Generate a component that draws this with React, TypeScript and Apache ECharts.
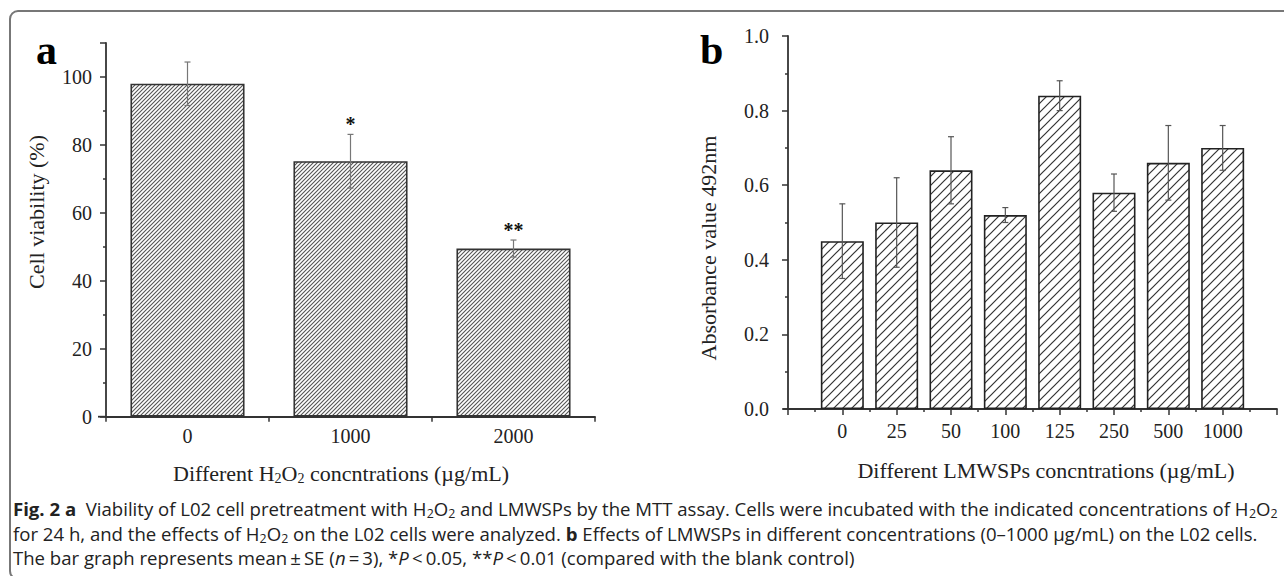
import React, { useEffect, useRef } from 'react';
import * as echarts from 'echarts';

// Panel a: H2O2 concentrations
const aCategories = ['0', '1000', '2000'];
const aMeans = [98, 75.2, 49.5];
const aErrors = [6.4, 7.9, 2.5];
const aMarks = ['', '*', '**'];
const aYTicks = { min: 0, max: 110, interval: 20 };

// Panel b: LMWSPs concentrations
const bCategories = ['0', '25', '50', '100', '125', '250', '500', '1000'];
const bMeans = [0.45, 0.5, 0.64, 0.52, 0.84, 0.58, 0.66, 0.7];
const bErrors = [0.1, 0.12, 0.09, 0.02, 0.04, 0.05, 0.1, 0.06];
const bYTicks = { min: 0, max: 1.0, interval: 0.2 };

// Caption lines
const captionLines = [
  '{b|Fig. 2 a}  Viability of L02 cell pretreatment with H{s|2}O{s|2} and LMWSPs by the MTT assay. Cells were incubated with the indicated concentrations of H{s|2}O{s|2}',
  'for 24 h, and the effects of H{s|2}O{s|2} on the L02 cells were analyzed. {b|b} Effects of LMWSPs in different concentrations (0–1000 µg/mL) on the L02 cells.',
  'The bar graph represents mean\u2009±\u2009SE ({i|n}\u2009=\u20093), *{i|P}\u2009<\u20090.05, **{i|P}\u2009<\u20090.01 (compared with the blank control)',
];

const SERIF = "'Liberation Serif', 'Times New Roman', serif";
const SANS = "'Open Sans', 'Noto Sans', sans-serif";

function hatch(size: number, color: string, lw: number) {
  const c = document.createElement('canvas');
  c.width = size;
  c.height = size;
  const ctx = c.getContext('2d') as CanvasRenderingContext2D;
  ctx.fillStyle = '#ffffff';
  ctx.fillRect(0, 0, size, size);
  ctx.strokeStyle = color;
  ctx.lineWidth = lw;
  ctx.beginPath();
  ctx.moveTo(-1, size + 1);
  ctx.lineTo(size + 1, -1);
  ctx.moveTo(-1, 1);
  ctx.lineTo(1, -1);
  ctx.moveTo(size - 1, size + 1);
  ctx.lineTo(size + 1, size - 1);
  ctx.stroke();
  return { image: c, repeat: 'repeat', imageWidth: size, imageHeight: size } as any;
}

function measureRich(text: string, base: any, rich: Record<string, any>): number {
  const ctx = document.createElement('canvas').getContext('2d') as CanvasRenderingContext2D;
  const fontOf = (st: any) =>
    `${st.fontStyle || 'normal'} ${st.fontWeight || 'normal'} ${st.fontSize}px ${st.fontFamily}`;
  let w = 0;
  const seg = (t: string, st: any) => {
    ctx.font = fontOf(st);
    w += ctx.measureText(t).width;
  };
  const re = /\{(\w+)\|([^}]*)\}/g;
  let last = 0;
  let m: RegExpExecArray | null;
  while ((m = re.exec(text))) {
    if (m.index > last) seg(text.slice(last, m.index), base);
    seg(m[2], rich[m[1]] || base);
    last = re.lastIndex;
  }
  if (last < text.length) seg(text.slice(last), base);
  return w;
}

function errorRenderer(color: string, capHalf: number, marks?: string[]) {
  return (params: any, api: any) => {
    const x = api.value(0);
    const m = api.value(1);
    const e = api.value(2);
    const top = api.coord([x, m + e]);
    const bot = api.coord([x, m - e]);
    const st = { stroke: color, lineWidth: 1.2 };
    const children: any[] = [
      { type: 'line', shape: { x1: top[0], y1: top[1], x2: bot[0], y2: bot[1] }, style: st },
      { type: 'line', shape: { x1: top[0] - capHalf, y1: top[1], x2: top[0] + capHalf, y2: top[1] }, style: st },
      { type: 'line', shape: { x1: bot[0] - capHalf, y1: bot[1], x2: bot[0] + capHalf, y2: bot[1] }, style: st },
    ];
    if (marks && marks[params.dataIndex]) {
      children.push({
        type: 'text',
        x: top[0],
        y: top[1] - 10,
        style: {
          text: marks[params.dataIndex],
          fontFamily: SERIF,
          fontWeight: 'bold',
          fontSize: 20,
          fill: '#111',
          align: 'center',
          verticalAlign: 'middle',
        },
      });
    }
    return { type: 'group', children };
  };
}

const axisText = { fontFamily: SERIF, fontSize: 20, color: '#222' };
const axisLine = { show: true, lineStyle: { color: '#333', width: 1.8 } };

export default function App() {
  const ref = useRef<HTMLDivElement>(null);
  useEffect(() => {
    document.body.style.margin = '0';
    if (!ref.current) return;
    const chart = echarts.init(ref.current, null, { renderer: 'svg' });
    const subRich = { fontFamily: SERIF, fontSize: 14, fill: '#222', padding: [11, 0, 0, 0] };
    const capBase = { fontFamily: SANS, fontSize: 18, fill: '#222' };
    const capRich: Record<string, any> = {
      b: { fontFamily: SANS, fontSize: 18, fontWeight: 'bold', fill: '#222' },
      s: { fontFamily: SANS, fontSize: 12, fill: '#222', padding: [10, 0, 0, 0] },
      i: { fontFamily: SANS, fontSize: 18, fontStyle: 'italic', fill: '#222' },
    };
    const capLeft = 13;
    const capRight = 1277;
    const w0 = measureRich(captionLines[0], capBase, capRich);
    const capScale = w0 > 0 ? (capRight - capLeft) / w0 : 1;
    const capY = [509, 534, 558];

    const option: any = {
      animation: false,
      backgroundColor: '#ffffff',
      grid: [
        { left: 106, top: 43, right: 689, bottom: 159.3, containLabel: false, outerBoundsMode: 'none' },
        { left: 788, top: 36, right: 7, bottom: 167, containLabel: false, outerBoundsMode: 'none' },
      ],
      xAxis: [
        {
          type: 'category',
          gridIndex: 0,
          data: aCategories,
          boundaryGap: true,
          axisLine,
          axisTick: { show: true, inside: false, length: 5, lineStyle: { color: '#333', width: 1.5 } },
          axisLabel: { ...axisText, margin: 9 },
          splitLine: { show: false },
        },
        {
          type: 'value',
          gridIndex: 1,
          min: 0,
          max: 9,
          interval: 1,
          axisLine: { ...axisLine, onZero: false },
          axisTick: { show: true, inside: false, length: 6, lineStyle: { color: '#333', width: 1.5 } },
          minorTick: { show: true, splitNumber: 2, length: 3, lineStyle: { color: '#333', width: 1.5 } },
          axisLabel: {
            ...axisText,
            margin: 12,
            formatter: (v: number) => bCategories[Math.round(v) - 1] ?? '',
          },
          splitLine: { show: false },
          minorSplitLine: { show: false },
        },
      ],
      yAxis: [
        {
          type: 'value',
          gridIndex: 0,
          min: aYTicks.min,
          max: aYTicks.max,
          interval: aYTicks.interval,
          axisLine,
          axisTick: { show: true, inside: false, length: 6, lineStyle: { color: '#333', width: 1.5 } },
          minorTick: { show: true, splitNumber: 2, length: 3, lineStyle: { color: '#333', width: 1.5 } },
          axisLabel: { ...axisText, margin: 14, showMaxLabel: false },
          splitLine: { show: false },
          minorSplitLine: { show: false },
        },
        {
          type: 'value',
          gridIndex: 1,
          min: bYTicks.min,
          max: bYTicks.max,
          interval: bYTicks.interval,
          axisLine,
          axisTick: { show: true, inside: false, length: 6, lineStyle: { color: '#333', width: 1.5 } },
          minorTick: { show: true, splitNumber: 2, length: 3, lineStyle: { color: '#333', width: 1.5 } },
          axisLabel: { ...axisText, margin: 19, formatter: (v: number) => v.toFixed(1) },
          splitLine: { show: false },
          minorSplitLine: { show: false },
        },
      ],
      series: [
        {
          type: 'bar',
          xAxisIndex: 0,
          yAxisIndex: 0,
          data: aMeans,
          barWidth: '70%',
          itemStyle: { color: hatch(4, '#555', 1.1), borderColor: '#333', borderWidth: 1.6 },
          z: 2,
        },
        {
          type: 'custom',
          xAxisIndex: 0,
          yAxisIndex: 0,
          data: aMeans.map((m, i) => [i, m, aErrors[i]]),
          renderItem: errorRenderer('#777', 3, aMarks),
          z: 5,
        },
        {
          type: 'bar',
          xAxisIndex: 1,
          yAxisIndex: 1,
          data: bMeans.map((m, i) => [i + 1, m]),
          barWidth: 43,
          itemStyle: { color: hatch(9, '#333', 1.2), borderColor: '#222', borderWidth: 1.6 },
          z: 2,
        },
        {
          type: 'custom',
          xAxisIndex: 1,
          yAxisIndex: 1,
          data: bMeans.map((m, i) => [i + 1, m, bErrors[i]]),
          renderItem: errorRenderer('#555', 3),
          z: 5,
        },
      ],
      graphic: [
        {
          type: 'rect',
          shape: { x: 10, y: 11, width: 1290, height: 568, r: 8 },
          style: { fill: 'none', stroke: '#777', lineWidth: 2 },
          silent: true,
        },
        { type: 'line', shape: { x1: 98, y1: 416.7, x2: 106, y2: 416.7 }, style: { stroke: '#333', lineWidth: 1.8 } },
        { type: 'line', shape: { x1: 783, y1: 409, x2: 788, y2: 409 }, style: { stroke: '#333', lineWidth: 1.8 } },
        {
          type: 'text',
          x: 36,
          y: 50,
          style: { text: 'a', fontFamily: SERIF, fontWeight: 'bold', fontSize: 42, fill: '#000', align: 'left', verticalAlign: 'middle' },
        },
        {
          type: 'text',
          x: 700,
          y: 50,
          style: { text: 'b', fontFamily: SERIF, fontWeight: 'bold', fontSize: 42, fill: '#000', align: 'left', verticalAlign: 'middle' },
        },
        {
          type: 'text',
          x: 36,
          y: 212,
          rotation: Math.PI / 2,
          style: { text: 'Cell viability (%)', fontFamily: SERIF, fontSize: 22, fill: '#222', align: 'center', verticalAlign: 'middle' },
        },
        {
          type: 'text',
          x: 708,
          y: 248,
          rotation: Math.PI / 2,
          style: { text: 'Absorbance value 492nm', fontFamily: SERIF, fontSize: 22, fill: '#222', align: 'center', verticalAlign: 'middle' },
        },
        {
          type: 'text',
          x: 341,
          y: 473,
          style: {
            text: 'Different H{s|2}O{s|2} concntrations (µg/mL)',
            fontFamily: SERIF,
            fontSize: 22,
            fill: '#222',
            align: 'center',
            verticalAlign: 'middle',
            rich: { s: subRich },
          },
        },
        {
          type: 'text',
          x: 1046,
          y: 470,
          style: {
            text: 'Different LMWSPs concntrations (µg/mL)',
            fontFamily: SERIF,
            fontSize: 22,
            fill: '#222',
            align: 'center',
            verticalAlign: 'middle',
          },
        },
        ...captionLines.map((t, k) => ({
          type: 'text',
          x: capLeft,
          y: capY[k],
          scaleX: capScale,
          style: {
            ...capBase,
            text: t,
            align: 'left',
            verticalAlign: 'middle',
            rich: capRich,
          },
        })),
      ],
    };
    chart.setOption(option);
    return () => chart.dispose();
  }, []);
  return <div ref={ref} style={{ width: 1284, height: 576 }} />;
}
